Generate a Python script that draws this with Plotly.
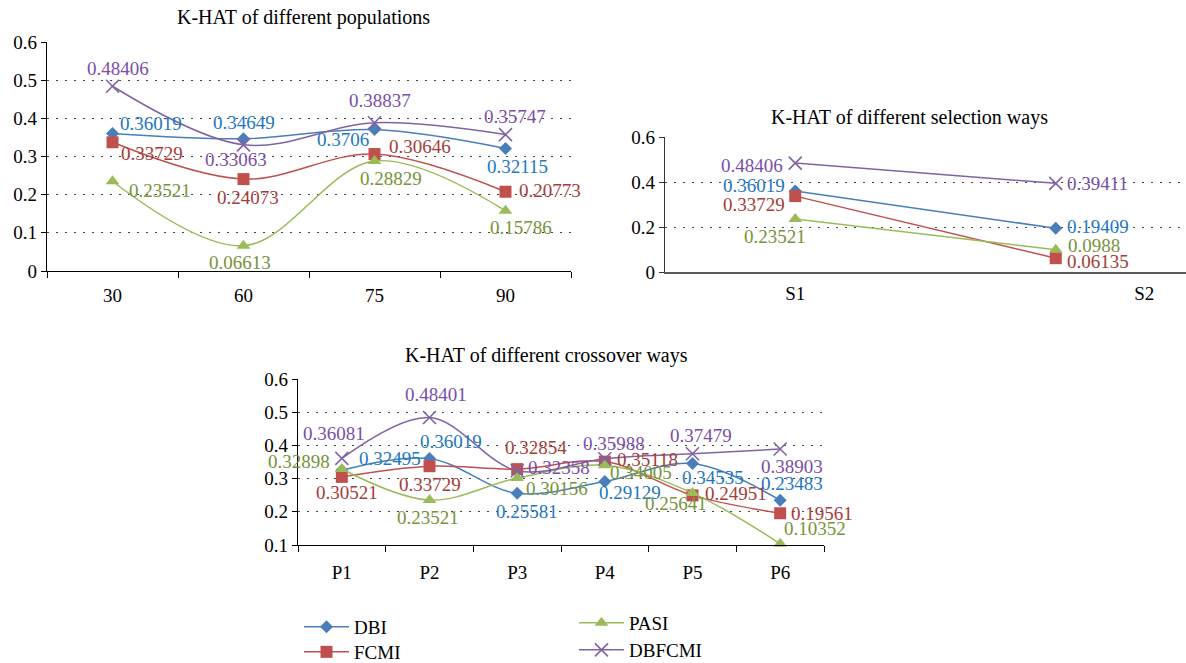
import plotly.graph_objects as go

W, H = 1186, 663

# ---------------- data ----------------
series_names = ["DBI", "FCMI", "PASI", "DBFCMI"]

pop_labels = ["30", "60", "75", "90"]
pop_DBI = [0.36019, 0.34649, 0.3706, 0.32115]
pop_FCMI = [0.33729, 0.24073, 0.30646, 0.20773]
pop_PASI = [0.23521, 0.06613, 0.28829, 0.15786]
pop_DBFCMI = [0.48406, 0.33063, 0.38837, 0.35747]

sel_labels = ["S1", "S2"]
sel_DBI = [0.36019, 0.19409]
sel_FCMI = [0.33729, 0.06135]
sel_PASI = [0.23521, 0.0988]
sel_DBFCMI = [0.48406, 0.39411]

cro_labels = ["P1", "P2", "P3", "P4", "P5", "P6"]
cro_DBI = [0.32495, 0.36019, 0.25581, 0.29129, 0.34535, 0.23483]
cro_FCMI = [0.30521, 0.33729, 0.32854, 0.35118, 0.24951, 0.19561]
cro_PASI = [0.32898, 0.23521, 0.30156, 0.34005, 0.25641, 0.10352]
cro_DBFCMI = [0.36081, 0.48401, 0.32358, 0.35988, 0.37479, 0.38903]

pop_data = {"DBI": pop_DBI, "FCMI": pop_FCMI, "PASI": pop_PASI, "DBFCMI": pop_DBFCMI}
sel_data = {"DBI": sel_DBI, "FCMI": sel_FCMI, "PASI": sel_PASI, "DBFCMI": sel_DBFCMI}
cro_data = {"DBI": cro_DBI, "FCMI": cro_FCMI, "PASI": cro_PASI, "DBFCMI": cro_DBFCMI}

# ---------------- styles ----------------
FONT = "Liberation Serif, Times New Roman, DejaVu Serif, serif"
style = {
    "DBI": dict(color="#4a7ebb", text="#1f78c1", symbol="diamond", size=10),
    "FCMI": dict(color="#c0504d", text="#a33e3a", symbol="square", size=12),
    "PASI": dict(color="#9bbb59", text="#77933c", symbol="triangle-up", size=12),
    "DBFCMI": dict(color="#8064a2", text="#7a4fa6", symbol="x-thin", size=13),
}
# one single-entry legend per series: (legend id, left px, top px)
legend_of = {"DBI": ("legend", 299, 608), "FCMI": ("legend2", 299, 633),
             "PASI": ("legend3", 574, 604), "DBFCMI": ("legend4", 574, 631)}

# data-label offsets from the marker (pixels: right, down)
pop_off = {
    "DBI": [(38, -10), (0, -16), (-32, 10), (12, 18)],
    "FCMI": [(39, 11), (4, 18), (45, -8), (44, -1)],
    "PASI": [(47, 9), (-4, 17), (16, 18), (15, 17)],
    "DBFCMI": [(5, -18), (-8, 15), (5, -22), (9, -18)],
}
sel_off = {
    "DBI": [(-41, -5), (42, -2)],
    "FCMI": [(-41, 8), (42, 3)],
    "PASI": [(-20, 17), (38, -4)],
    "DBFCMI": [(-43, 2), (42, 0)],
}
cro_off = {
    "DBI": [(48, -12), (21, -17), (10, 18), (25, 11), (20, 14), (12, -17)],
    "FCMI": [(5, 16), (0, 18), (19, -22), (43, -2), (43, -2), (42, 0)],
    "PASI": [(-43, -7), (-2, 17), (40, 10), (36, 7), (-17, 10), (35, -15)],
    "DBFCMI": [(-8, -25), (6, -23), (42, -3), (9, -15), (8, -18), (12, 17)],
}

fig = go.Figure()
annotations = []


def add_series(xvals, data, offs, xa, ya, smooth, show_legend):
    for name in series_names:
        st = style[name]
        marker = dict(symbol=st["symbol"], size=st["size"], color=st["color"],
                      line=dict(width=1.6 if st["symbol"] == "x-thin" else 0, color=st["color"]))
        line = dict(color=st["color"], width=1.5)
        if smooth:
            line.update(shape="spline", smoothing=1.0)
        fig.add_trace(go.Scatter(
            x=xvals, y=data[name], name=name, mode="lines+markers",
            line=line, marker=marker, xaxis=xa, yaxis=ya,
            showlegend=show_legend, legend=legend_of[name][0], legendgroup=name,
            hoverinfo="skip", cliponaxis=False))
        # annotations on category axes are placed by category index
        for i, (yv, (dx, dy)) in enumerate(zip(data[name], offs[name])):
            annotations.append(dict(
                x=i, y=yv, xref=xa, yref=ya, text=str(yv), showarrow=False,
                xanchor="center", yanchor="middle", xshift=dx, yshift=-dy,
                font=dict(family=FONT, size=19, color=st["text"])))


add_series(pop_labels, pop_data, pop_off, "x", "y", True, True)
add_series(list(range(len(sel_labels))), sel_data, sel_off, "x2", "y2", False, False)
add_series(cro_labels, cro_data, cro_off, "x3", "y3", True, False)


def px_x(p):
    return p / W


def px_y(p):
    return 1 - p / H


tickfont = dict(family=FONT, size=19, color="#000")
grid = dict(showgrid=True, gridcolor="#444", gridwidth=1.3, griddash="2px,7px")

for t, x, y in [("K-HAT of different populations", 303, 17),
                ("K-HAT of different selection ways", 909, 117),
                ("K-HAT of different crossover ways", 546, 355)]:
    annotations.append(dict(text=t, x=px_x(x), y=px_y(y), xref="paper", yref="paper",
                            showarrow=False, xanchor="center", yanchor="middle",
                            font=dict(family=FONT, size=20, color="#000")))

legends = {}
for name in series_names:
    lid, lx, ly = legend_of[name]
    legends[lid] = dict(x=px_x(lx), y=px_y(ly), xanchor="left", yanchor="top",
                        font=dict(family=FONT, size=19, color="#000"),
                        bgcolor="rgba(0,0,0,0)", tracegroupgap=0, itemwidth=45)

fig.update_layout(
    width=W, height=H, autosize=False,
    margin=dict(l=0, r=0, t=0, b=0, autoexpand=False),
    paper_bgcolor="white", plot_bgcolor="white",
    font=dict(family=FONT, size=19, color="#000"),
    # top-left
    xaxis=dict(domain=[px_x(47), px_x(571)], anchor="y", type="category",
               tickson="boundaries", ticks="outside", ticklen=6, tickcolor="#000",
               showline=True, linecolor="#000", linewidth=1.3, showgrid=False,
               tickfont=tickfont, range=[-0.5, 3.5], ticklabelstandoff=7),
    yaxis=dict(domain=[px_y(271), px_y(42)], anchor="x", range=[0, 0.6], dtick=0.1,
               ticks="outside", ticklen=5, tickcolor="#000", showline=True,
               linecolor="#000", linewidth=1.3, zeroline=False, tickfont=tickfont, **grid),
    # top-right
    xaxis2=dict(domain=[px_x(665), 1.0], anchor="y2", range=[-0.5, 1.5],
                tickvals=[0, 1.34], ticktext=sel_labels, ticks="",
                showline=True, linecolor="#595959", linewidth=2.2, showgrid=False,
                zeroline=False, tickfont=tickfont, ticklabelstandoff=3),
    xaxis4=dict(domain=[px_x(665), 1.0], anchor="y2", overlaying="x2", range=[-0.5, 1.5],
                tickvals=[-0.5, 0.5, 1.5], ticks="outside", ticklen=6, tickcolor="#333",
                showticklabels=False, showline=False, showgrid=False, zeroline=False),
    yaxis2=dict(domain=[px_y(272), px_y(137)], anchor="x2", range=[0, 0.6], dtick=0.2,
                ticks="outside", ticklen=5, tickcolor="#333", showline=True,
                linecolor="#333", linewidth=1.3, zeroline=False, tickfont=tickfont, **grid),
    # bottom
    xaxis3=dict(domain=[px_x(298), px_x(824)], anchor="y3", type="category",
                tickson="boundaries", ticks="outside", ticklen=6, tickcolor="#000",
                showline=True, linecolor="#000", linewidth=1.3, showgrid=False,
                tickfont=tickfont, range=[-0.5, 5.5], ticklabelstandoff=10),
    yaxis3=dict(domain=[px_y(545), px_y(379)], anchor="x3", range=[0.1, 0.6], dtick=0.1,
                ticks="outside", ticklen=5, tickcolor="#000", showline=True,
                linecolor="#000", linewidth=1.3, zeroline=False, tickfont=tickfont, **grid),
    annotations=annotations,
    **legends,
)

fig.write_html("out.html")
